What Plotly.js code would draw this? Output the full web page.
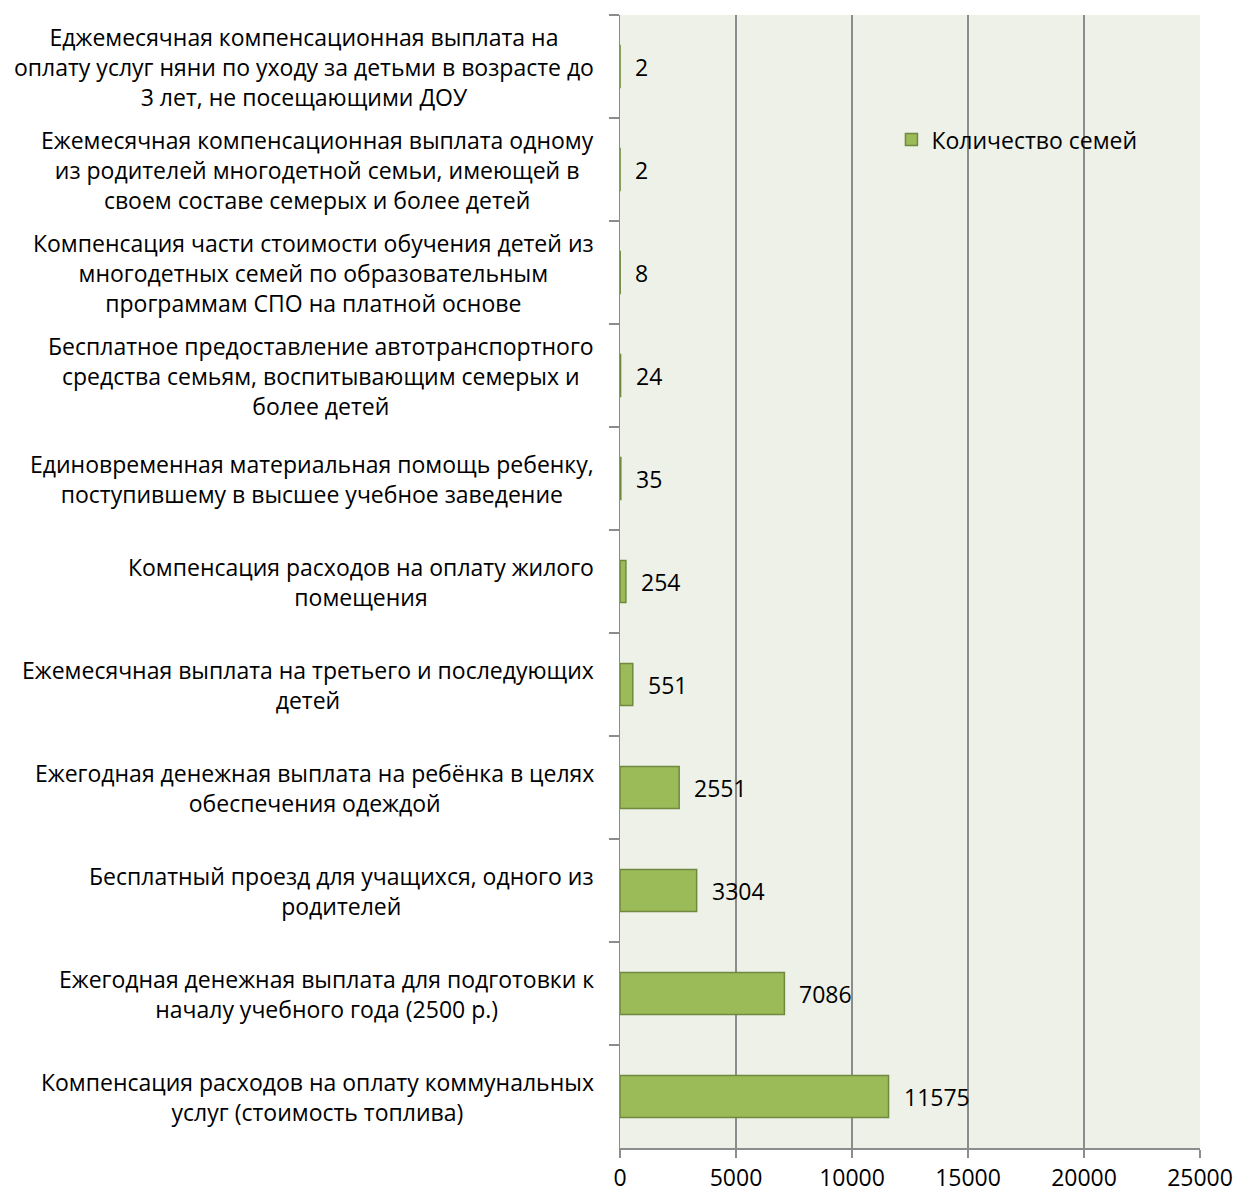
<!DOCTYPE html>
<html>
<head>
<meta charset="utf-8">
<script src="https://cdn.plot.ly/plotly-3.0.1.min.js"></script>
<style>html,body{margin:0;padding:0;background:#fff;}#chart{width:1235px;height:1193px;}</style>
</head>
<body>
<div id="chart"></div>
<script>
// Categories, top to bottom as in the chart
const categories = [
  "Еджемесячная компенсационная выплата на<br>оплату услуг няни по уходу за детьми в возрасте до<br>3 лет, не посещающими ДОУ",
  "Ежемесячная компенсационная выплата одному<br>из родителей многодетной семьи, имеющей в<br>своем составе семерых и более детей",
  "Компенсация части стоимости обучения детей из<br>многодетных семей по образовательным<br>программам СПО на платной основе",
  "Бесплатное предоставление автотранспортного<br>средства семьям, воспитывающим семерых и<br>более детей",
  "Единовременная материальная помощь ребенку,<br>поступившему в высшее учебное заведение",
  "Компенсация расходов на оплату жилого<br>помещения",
  "Ежемесячная выплата на третьего и последующих<br>детей",
  "Ежегодная денежная выплата на ребёнка в целях<br>обеспечения одеждой",
  "Бесплатный проезд для учащихся, одного из<br>родителей",
  "Ежегодная денежная выплата для подготовки к<br>началу учебного года (2500 р.)",
  "Компенсация расходов на оплату коммунальных<br>услуг (стоимость топлива)"
];
const families = [2, 2, 8, 24, 35, 254, 551, 2551, 3304, 7086, 11575];
const seriesName = "Количество семей";
const xTicks = [0, 5000, 10000, 15000, 20000, 25000];

const FONT = "'Open Sans', 'Noto Sans', sans-serif";
const FS = 23;

const trace = {
  type: 'bar',
  orientation: 'h',
  x: families,
  y: categories,
  name: seriesName,
  marker: {color: '#9BBB59', line: {color: '#71893F', width: 1.5}},
  hoverinfo: 'x+y',
  showlegend: true
};

const annotations = [];
categories.forEach((c, i) => {
  annotations.push({
    xref: 'paper', yref: 'y', x: 0, y: c, xanchor: 'right', yanchor: 'middle',
    xshift: -24, text: c, align: 'center', showarrow: false,
    font: {family: FONT, size: FS, color: '#000'}
  });
  annotations.push({
    xref: 'x', yref: 'y', x: families[i], y: c, xanchor: 'left', yanchor: 'middle',
    xshift: 13, text: String(families[i]), showarrow: false,
    font: {family: FONT, size: FS, color: '#000'}
  });
});

const layout = {
  width: 1235, height: 1193,
  margin: {l: 620, r: 35, t: 15, b: 45, pad: 0},
  paper_bgcolor: '#ffffff',
  plot_bgcolor: '#EEF1E8',
  font: {family: FONT, size: FS, color: '#000'},
  bargap: 0.59,
  showlegend: true,
  legend: {x: 0.468, y: 0.89, xanchor: 'left', yanchor: 'middle', bgcolor: 'rgba(0,0,0,0)',
           font: {family: FONT, size: FS, color: '#000'}},
  xaxis: {
    range: [0, 25000], tickvals: xTicks, ticktext: xTicks.map(String),
    showgrid: true, gridcolor: '#8C8C8C', gridwidth: 1.5,
    zeroline: false, showline: true, linecolor: '#8C8C8C', linewidth: 1.5,
    ticks: 'outside', ticklen: 8, tickcolor: '#8C8C8C', tickwidth: 1.5,
    ticklabelstandoff: 1,
    tickfont: {family: FONT, size: FS, color: '#000'}, fixedrange: true
  },
  yaxis: {
    type: 'category', autorange: 'reversed',
    showticklabels: false, showgrid: false, zeroline: false,
    showline: true, linecolor: '#8C8C8C', linewidth: 1.5,
    ticks: 'outside', tickson: 'boundaries', ticklen: 10, tickcolor: '#8C8C8C', tickwidth: 1.5,
    fixedrange: true
  },
  annotations: annotations
};

Plotly.newPlot('chart', [trace], layout, {displayModeBar: false, staticPlot: true});
</script>
</body>
</html>
